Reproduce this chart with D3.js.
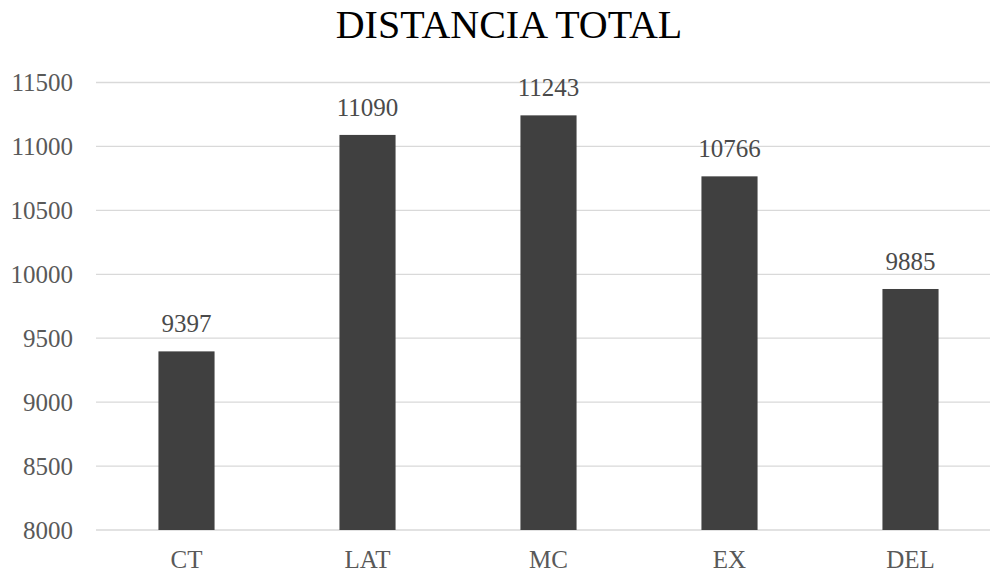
<!DOCTYPE html>
<html>
<head>
<meta charset="utf-8">
<script src="https://cdn.jsdelivr.net/npm/d3@7"></script>
<style>
  html, body { margin: 0; padding: 0; background: #fff; }
  svg { display: block; }
</style>
</head>
<body>
<svg id="chart" width="990" height="577"></svg>
<script>
const categories = ["CT", "LAT", "MC", "EX", "DEL"];
const values = [9397, 11090, 11243, 10766, 9885];
const yTicks = [8000, 8500, 9000, 9500, 10000, 10500, 11000, 11500];
const title = "DISTANCIA TOTAL";

const svg = d3.select("#chart");
const font = "'Liberation Serif', 'Times New Roman', serif";

const x = d3.scaleBand()
  .domain(categories)
  .range([96, 1001])
  .paddingInner(0.69)
  .paddingOuter(0.345);

const y = d3.scaleLinear()
  .domain([8000, 11500])
  .range([530, 82.5]);

// horizontal gridlines
svg.append("g")
  .selectAll("line")
  .data(yTicks)
  .join("line")
  .attr("x1", 96)
  .attr("x2", 1001)
  .attr("y1", d => y(d))
  .attr("y2", d => y(d))
  .attr("stroke", "#d9d9d9")
  .attr("stroke-width", 1.3);

// y axis labels
const yAxis = d3.axisLeft(y).tickValues(yTicks).tickSize(0).tickPadding(0).tickFormat(d3.format("d"));
svg.append("g")
  .attr("transform", "translate(73,0)")
  .call(yAxis)
  .call(g => g.select(".domain").remove())
  .call(g => g.selectAll("text")
    .attr("font-family", font)
    .attr("font-size", 25)
    .attr("fill", "#595959")
    .attr("dy", "0.33em"));

// bars
svg.append("g")
  .selectAll("rect")
  .data(values)
  .join("rect")
  .attr("x", (d, i) => x(categories[i]))
  .attr("width", x.bandwidth())
  .attr("y", d => y(d))
  .attr("height", d => y(8000) - y(d))
  .attr("fill", "#404040");

// value labels
svg.append("g")
  .selectAll("text")
  .data(values)
  .join("text")
  .attr("x", (d, i) => x(categories[i]) + x.bandwidth() / 2)
  .attr("y", d => y(d) - 19)
  .attr("text-anchor", "middle")
  .attr("font-family", font)
  .attr("font-size", 25)
  .attr("fill", "#4a4a4a")
  .text(d => d);

// category axis
const xAxis = d3.axisBottom(x).tickSize(0).tickPadding(0);
svg.append("g")
  .attr("transform", "translate(0,550)")
  .call(xAxis)
  .call(g => g.select(".domain").remove())
  .call(g => g.selectAll("text")
    .attr("font-family", font)
    .attr("font-size", 25)
    .attr("fill", "#595959")
    .attr("dy", "0.72em"));

// title
svg.append("text")
  .attr("x", 509)
  .attr("y", 38)
  .attr("text-anchor", "middle")
  .attr("font-family", font)
  .attr("font-size", 40)
  .attr("fill", "#000")
  .text(title);
</script>
</body>
</html>
